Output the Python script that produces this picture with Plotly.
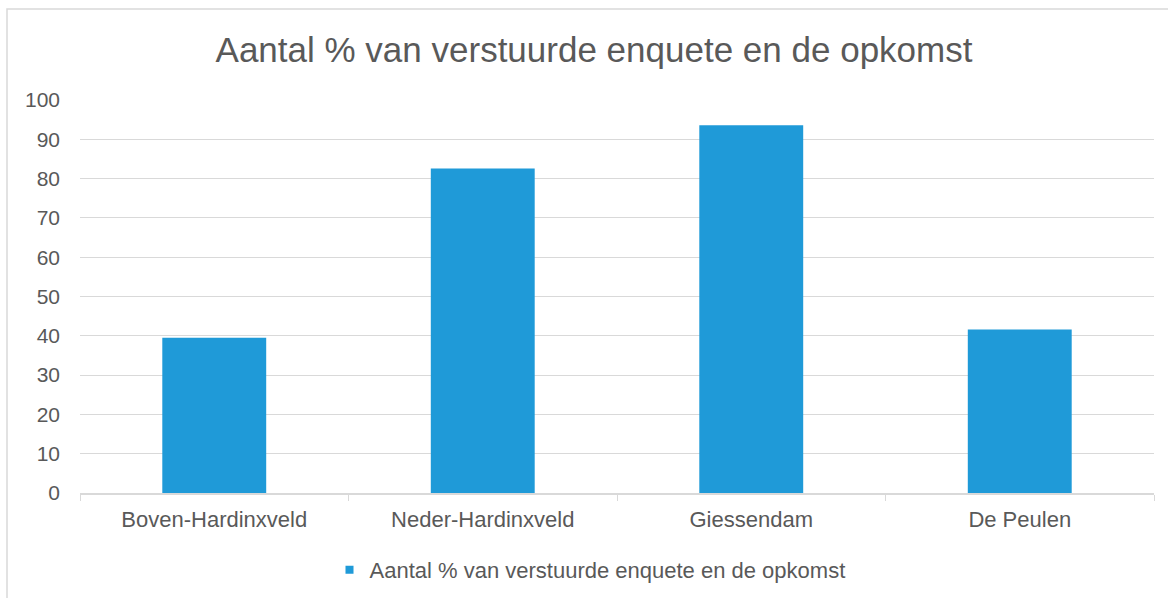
import plotly.graph_objects as go

categories = ["Boven-Hardinxveld", "Neder-Hardinxveld", "Giessendam", "De Peulen"]
values = [39.5, 82.6, 93.6, 41.6]
series_name = "Aantal % van verstuurde enquete en de opkomst"
title_text = "Aantal % van verstuurde enquete en de opkomst"

W, H = 1168, 598
L, R, T, B = 80, 14, 100, 105
pw = W - L - R
ph = H - T - B

text_color = "#595959"
grid_color = "#d9d9d9"
bar_color = "#1f9ad8"
font_family = "Liberation Sans, Arial, sans-serif"

fig = go.Figure()
fig.add_trace(go.Bar(
    x=categories, y=values, name=series_name,
    marker=dict(color=bar_color, line=dict(width=0)),
    showlegend=False,
))
# legend-only entry with a small square symbol
fig.add_trace(go.Scatter(
    x=[None], y=[None], mode="markers", name=series_name,
    marker=dict(symbol="square", size=8, color=bar_color),
    showlegend=True,
))

fig.update_layout(
    width=W, height=H,
    margin=dict(l=L, r=R, t=T, b=B, autoexpand=False),
    paper_bgcolor="white", plot_bgcolor="white",
    bargap=0.613,
    font=dict(family=font_family, color=text_color, size=21),
    title=dict(text=title_text, x=(594 - L) / pw, xref="paper", xanchor="center",
               y=1 - 50 / H, yanchor="middle",
               font=dict(size=35, color=text_color, family=font_family)),
    legend=dict(orientation="h", x=(590 - L) / pw, xanchor="center",
                y=(T + ph - 570) / ph, yanchor="middle",
                font=dict(size=22, color=text_color), itemwidth=30,
                bgcolor="rgba(0,0,0,0)"),
    xaxis=dict(showline=True, linecolor=grid_color, linewidth=1.5,
               ticks="outside", tickson="boundaries", ticklen=6, tickcolor=grid_color,
               ticklabelstandoff=6,
               showgrid=False, tickfont=dict(size=22, color=text_color)),
    yaxis=dict(range=[0, 100], dtick=10, showgrid=True, gridcolor=grid_color, gridwidth=1,
               showline=False, zeroline=False, ticks="", ticklabelstandoff=19,
               tickfont=dict(size=21, color=text_color)),
    shapes=[dict(type="rect", xref="paper", yref="paper",
                 x0=(7 - L) / pw, x1=(1185 - L) / pw,
                 y0=(T + ph - 610) / ph, y1=(T + ph - 9) / ph,
                 line=dict(color=grid_color, width=1.5), fillcolor="rgba(0,0,0,0)",
                 layer="below")],
)

fig.write_html("out.html", config={"displayModeBar": False},
               post_script="document.body.style.margin='0';")
